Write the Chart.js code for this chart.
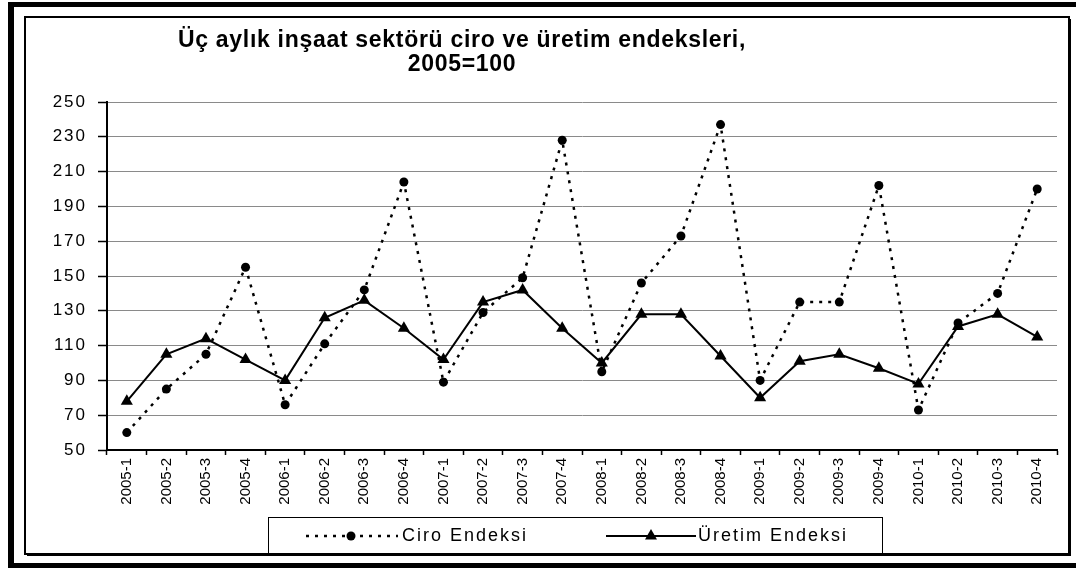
<!DOCTYPE html>
<html>
<head>
<meta charset="utf-8">
<script src="https://cdn.jsdelivr.net/npm/chart.js@4"></script>
<style>
	html, body { margin: 0; padding: 0; background: #fff; overflow: hidden; }
	canvas { display: block; }
</style>
</head>
<body>
<canvas id="chart" width="1076" height="570"></canvas>
<script>
// ================ Data ================
const quarters = [
	"2005-1", "2005-2", "2005-3", "2005-4",
	"2006-1", "2006-2", "2006-3", "2006-4",
	"2007-1", "2007-2", "2007-3", "2007-4",
	"2008-1", "2008-2", "2008-3", "2008-4",
	"2009-1", "2009-2", "2009-3", "2009-4",
	"2010-1", "2010-2", "2010-3", "2010-4",
];
const ciroValues = [60, 85, 105, 155, 76, 111, 142, 204, 89, 129, 149, 228, 95, 146, 173, 237, 90, 135, 135, 202, 73, 123, 140, 200];
const uretimValues = [78, 105, 114, 102, 90, 126, 136, 120, 102, 135, 142, 120, 100, 128, 128, 104, 80, 101, 105, 97, 88, 121, 128, 115];
const seriesNames = ["Ciro Endeksi", "Üretim Endeksi"];
const titleLines = ["Üç aylık inşaat sektörü ciro ve üretim endeksleri,", "2005=100"];
const yMin = 50;
const yMax = 250;
const yStep = 20;

const FONT = '"Liberation Sans", Arial, sans-serif';

// ================ Frame, title and legend ================
const framePlugin = {
	id: "frame",
	beforeDraw(chart) {
		const ctx = chart.ctx;
		ctx.save();
		ctx.fillStyle = "#fff";
		ctx.fillRect(0, 0, chart.width, chart.height);
		// outer thick frame
		ctx.fillStyle = "#000";
		ctx.fillRect(8, 2, chart.width - 8, 5);
		ctx.fillRect(8, 2, 6, 566);
		ctx.fillRect(8, 563, chart.width - 8, 5);
		// inner frame with shadow
		ctx.strokeStyle = "#000";
		ctx.lineWidth = 2;
		ctx.strokeRect(25, 17, 1044, 537);
		ctx.fillRect(1069, 19, 2, 537);
		ctx.fillRect(27, 554, 1044, 2);
		ctx.restore();
	},
	afterDraw(chart) {
		const ctx = chart.ctx;
		ctx.save();
		// title
		ctx.fillStyle = "#000";
		ctx.font = "bold 23px " + FONT;
		ctx.letterSpacing = "0.7px";
		ctx.textAlign = "center";
		ctx.textBaseline = "alphabetic";
		ctx.fillText(titleLines[0], 462, 47);
		ctx.fillText(titleLines[1], 462, 71);

		// legend box
		ctx.letterSpacing = "0px";
		ctx.lineWidth = 1;
		ctx.strokeStyle = "#000";
		ctx.strokeRect(268.5, 517.5, 614, 36);
		const ly = 536;

		// Ciro sample
		ctx.lineWidth = 2.5;
		ctx.setLineDash([3, 6]);
		ctx.beginPath();
		ctx.moveTo(306, ly);
		ctx.lineTo(398, ly);
		ctx.stroke();
		ctx.setLineDash([]);
		ctx.beginPath();
		ctx.arc(351, ly, 4.5, 0, Math.PI * 2);
		ctx.fill();

		// Üretim sample
		ctx.lineWidth = 2;
		ctx.beginPath();
		ctx.moveTo(606, ly);
		ctx.lineTo(696, ly);
		ctx.stroke();
		ctx.beginPath();
		ctx.moveTo(651, ly - 7);
		ctx.lineTo(657, ly + 3.5);
		ctx.lineTo(645, ly + 3.5);
		ctx.closePath();
		ctx.fill();

		ctx.font = "18px " + FONT;
		ctx.letterSpacing = "2px";
		ctx.textAlign = "left";
		ctx.textBaseline = "middle";
		ctx.fillText(seriesNames[0], 402, ly);
		ctx.fillText(seriesNames[1], 698, ly);
		ctx.restore();
	},
	afterUpdate(chart) {
		// wider y tick labels, like the original
		const y = chart.scales.y;
		if (y && !y._spaced) {
			const orig = y.drawLabels.bind(y);
			y.drawLabels = function (area) {
				const c = this.ctx;
				c.letterSpacing = "2px";
				orig(area);
				c.letterSpacing = "0px";
			};
			y._spaced = true;
		}
	},
};

// ================ Chart ================
const ctx = document.getElementById("chart");
const chart = new Chart(ctx, {
	type: "line",
	data: {
		labels: quarters,
		datasets: [
			{
				label: seriesNames[0],
				data: ciroValues,
				borderColor: "#000",
				backgroundColor: "#000",
				borderWidth: 2.5,
				borderDash: [3, 6],
				pointStyle: "circle",
				pointRadius: 4.5,
				pointBorderWidth: 0,
				tension: 0,
				fill: false,
			},
			{
				label: seriesNames[1],
				data: uretimValues,
				borderColor: "#000",
				backgroundColor: "#000",
				borderWidth: 2,
				pointStyle: "triangle",
				pointRadius: 7,
				pointBorderWidth: 0,
				tension: 0,
				fill: false,
			},
		],
	},
	options: {
		responsive: false,
		devicePixelRatio: 1,
		animation: false,
		layout: {
			padding: { left: 30, top: 102, right: 19, bottom: 20 },
		},
		plugins: {
			legend: { display: false },
			title: { display: false },
			tooltip: { enabled: false },
		},
		scales: {
			x: {
				offset: true,
				afterFit(scale) {
					scale.height = 100;
				},
				grid: {
					offset: true,
					drawOnChartArea: false,
					drawTicks: true,
					tickLength: 5,
					tickColor: "#000",
					tickWidth: 1.5,
				},
				border: { color: "#000", width: 2 },
				ticks: {
					minRotation: 90,
					maxRotation: 90,
					autoSkip: false,
					padding: 3,
					color: "#000",
					font: { family: FONT, size: 15 },
				},
			},
			y: {
				min: yMin,
				max: yMax,
				afterFit(scale) {
					scale.width = 77;
				},
				grid: {
					color: "#8a8a8a",
					lineWidth: 1,
					drawTicks: true,
					tickLength: 9,
					tickColor: "#000",
					tickWidth: 1.5,
				},
				border: { color: "#000", width: 2 },
				ticks: {
					stepSize: yStep,
					padding: 11,
					color: "#000",
					font: { family: FONT, size: 17 },
				},
			},
		},
	},
	plugins: [framePlugin],
});
</script>
</body>
</html>
